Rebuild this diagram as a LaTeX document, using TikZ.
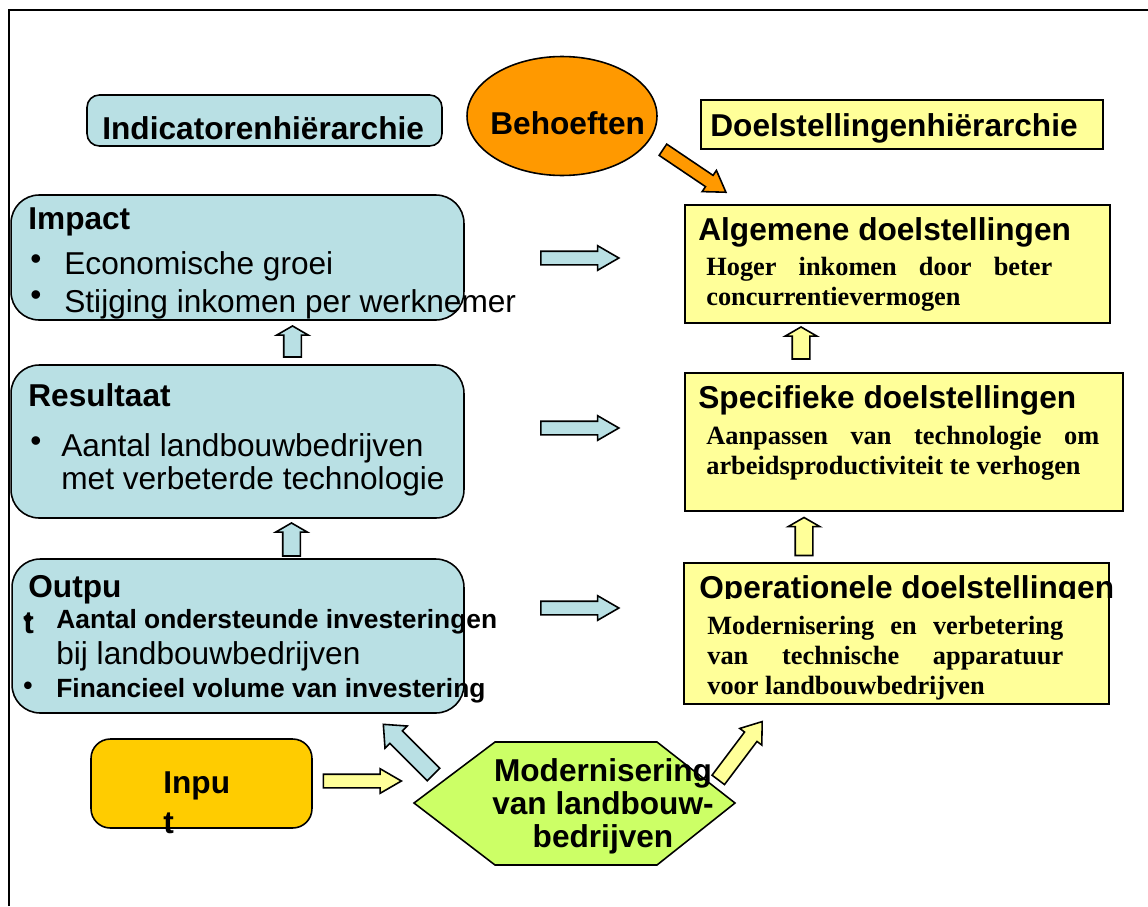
\documentclass[tikz,border=0pt]{standalone}
\usepackage{fontspec}
\setmainfont{Liberation Sans}
\newfontfamily\tmsfont{Liberation Serif}
\usetikzlibrary{shapes.geometric,shapes.arrows}
\definecolor{lblue}{RGB}{185,224,228}
\definecolor{lyellow}{RGB}{255,255,153}
\definecolor{orng}{RGB}{255,153,0}
\definecolor{gold}{RGB}{255,204,0}
\definecolor{lgreen}{RGB}{204,255,102}
\tikzset{
  ind/.style={draw,line width=0.9pt,fill=lblue,rounded corners=16pt},
  doel/.style={draw,line width=0.9pt,fill=lyellow},
  head/.style={font=\bfseries\fontsize{18}{21}\selectfont,anchor=west,inner sep=0pt},
  item/.style={font=\fontsize{18}{21}\selectfont,anchor=west,inner sep=0pt},
  smitem/.style={font=\bfseries\fontsize{15}{18}\selectfont,anchor=west,inner sep=0pt},
  body/.style={font=\tmsfont\bfseries\fontsize{15}{17}\selectfont,anchor=north west,inner sep=0pt,align=justify},
  barrow/.style={single arrow,draw,line width=0.9pt,inner xsep=0pt,single arrow head indent=0pt},
  harrow/.style={barrow,minimum height=1.56cm,inner ysep=0.12cm,single arrow head extend=0.11cm,single arrow tip angle=60},
  uarrow/.style={barrow,rotate=90,inner ysep=0.16cm,single arrow head extend=0.14cm,single arrow tip angle=120}
}
\begin{document}
\begin{tikzpicture}[x=0.02cm,y=-0.02cm]
\useasboundingbox (0,0) rectangle (1148,906);
\draw[line width=1.5pt] (9,906) -- (9,10) -- (1148,10);
% headers
\node[ind,rounded corners=7pt,minimum width=7.1cm,minimum height=1.02cm] (indh) at (264.5,120.5) {};
\node[head] (indhtxt) at (102,128) {Indicatorenhiërarchie};
\node[ellipse,draw,line width=0.9pt,fill=orng,minimum width=3.8cm,minimum height=2.38cm] (behoefte) at (562,116) {};
\node[head] (behtxt) at (490,123) {Behoeften};
\node[doel,minimum width=8.04cm,minimum height=0.98cm] (doelh) at (902,124.5) {};
\node[head] (doelhtxt) at (710,128) {Doelstellingenhiërarchie};
% indicatoren
\node[ind,minimum width=9.06cm,minimum height=2.5cm] (impact) at (237.5,257.5) {};
\node[head] (imptxt) at (28,222) {Impact};
\node[item] (impb1) at (30,262) {•};
\node[item] (imp1) at (64,266) {Economische groei};
\node[item] (impb2) at (30,298) {•};
\node[item] (imp2) at (64,304) {Stijging inkomen per werknemer};
\node[ind,minimum width=9.06cm,minimum height=3.06cm] (result) at (237.5,441.5) {};
\node[head] (restxt) at (28,395) {Resultaat};
\node[item] (resb1) at (30,444) {•};
\node[item] (res1) at (61,448) {Aantal landbouwbedrijven};
\node[item] (res2) at (61,481) {met verbeterde technologie};
\node[ind,minimum width=9.04cm,minimum height=3.08cm] (output) at (238,636) {};
\node[head] (outtxt) at (28,590) {Outpu};
\node[smitem] (outb1) at (23,621) {•};
\node[head] (outt) at (23,623) {t};
\node[smitem] (out1) at (56,622) {Aantal ondersteunde investeringen};
\node[item] (out2) at (56,656) {bij landbouwbedrijven};
\node[smitem] (outb2) at (23,688) {•};
\node[smitem] (out3) at (56,691) {Financieel volume van investering};
\node[draw,line width=0.9pt,fill=gold,rounded corners=11pt,minimum width=4.42cm,minimum height=1.78cm] (input) at (201.5,783.5) {};
\node[head] (intxt) at (163,786) {Inpu};
\node[head] (int) at (163,823) {t};
% maatregel
\draw[line width=0.9pt,fill=lgreen] (414,803) -- (495,742) -- (657,742) -- (735,803) -- (657,865) -- (495,865) -- cycle;
\node[font=\bfseries\fontsize{18}{18.7}\selectfont,align=center,inner sep=0pt] (modern) at (603,806) {Modernisering\\van landbouw-\\bedrijven};
% doelstellingen
\node[doel,minimum width=8.5cm,minimum height=2.36cm] (alg) at (897.5,264) {};
\node[head] (algtxt) at (698,232) {Algemene doelstellingen};
\node[body,text width=6.92cm] (algbody) at (706,257) {Hoger inkomen door beter\linebreak concurrentievermogen};
\node[doel,minimum width=8.76cm,minimum height=2.76cm] (spec) at (904,442) {};
\node[head] (spectxt) at (698,400) {Specifieke doelstellingen};
\node[body,text width=7.86cm] (specbody) at (706,426) {Aanpassen van technologie om\linebreak arbeidsproductiviteit te verhogen};
\node[doel,minimum width=8.5cm,minimum height=2.82cm] (oper) at (896.5,633.5) {};
\begin{scope}
\clip (684,560) rectangle (1130,598);
\node[head] (opertxt) at (699,590) {Operationele doelstellingen};
\end{scope}
\node[body,text width=7.12cm] (operbody) at (707,616) {Modernisering en verbetering\linebreak van technische apparatuur\linebreak voor landbouwbedrijven};
% pijlen
\node[harrow,fill=lblue] (a1) at (574,258) {};
\node[harrow,fill=lblue] (a2) at (574,428) {};
\node[harrow,fill=lblue] (a3) at (574,608) {};
\node[harrow,fill=lyellow] (a4) at (356.5,781) {};
\node[uarrow,fill=lblue,minimum height=0.62cm] (u1) at (292.5,344) {};
\node[uarrow,fill=lblue,minimum height=0.66cm] (u2) at (291.5,542) {};
\node[uarrow,fill=lyellow,minimum height=0.64cm] (u3) at (801,345.5) {};
\node[uarrow,fill=lyellow,minimum height=0.76cm] (u4) at (804,539) {};
\node[barrow,fill=orng,rotate=-34,minimum height=1.52cm,inner ysep=0.12cm,single arrow head extend=0.12cm,single arrow tip angle=65] (d1) at (690,168) {};
\node[barrow,fill=lblue,rotate=135,minimum height=1.42cm,inner ysep=0.16cm,single arrow head extend=0.14cm,single arrow tip angle=82] (d2) at (412,753) {};
\node[barrow,fill=lyellow,rotate=53,minimum height=1.46cm,inner ysep=0.14cm,single arrow head extend=0.12cm,single arrow tip angle=72] (d3) at (737,755) {};
\end{tikzpicture}
\end{document}
